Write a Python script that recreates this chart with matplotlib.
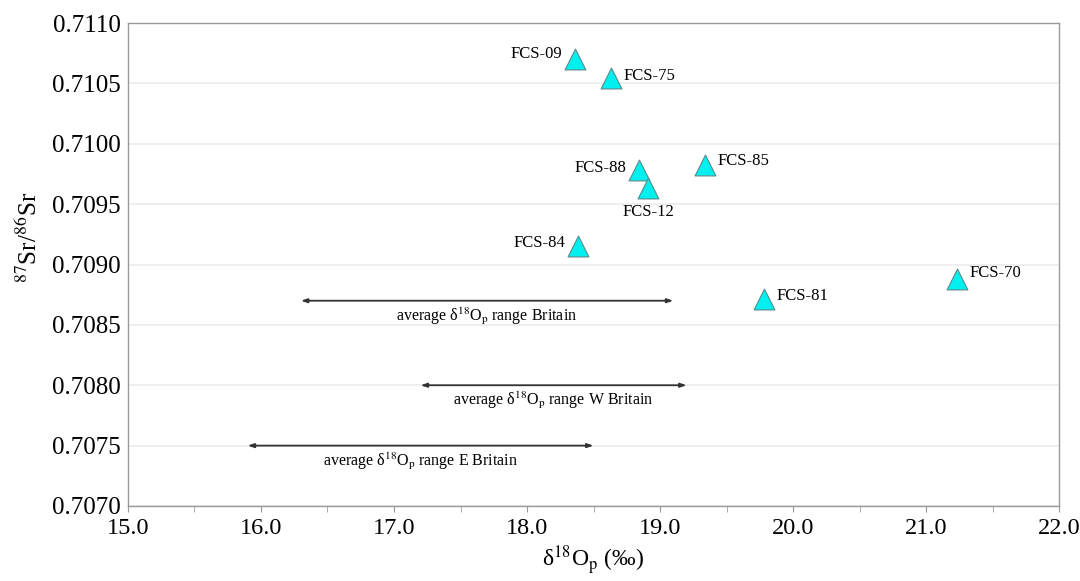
import matplotlib
matplotlib.use("Agg")
import matplotlib.pyplot as plt
from matplotlib.ticker import MultipleLocator, FormatStrFormatter

plt.rcParams["font.family"] = ["Liberation Serif", "DejaVu Serif"]
plt.rcParams["mathtext.fontset"] = "stix"

# ── data ──
samples = ["FCS-09", "FCS-75", "FCS-88", "FCS-12", "FCS-85", "FCS-84", "FCS-81", "FCS-70"]
d18o = [18.36, 18.63, 18.84, 18.91, 19.34, 18.38, 19.78, 21.23]
sr_ratio = [0.71070, 0.710546, 0.709785, 0.709631, 0.709824, 0.709153, 0.708718, 0.708882]

ranges = ["Britain", "W Britain", "E Britain"]
range_lo = [16.3, 17.2, 15.9]
range_hi = [19.1, 19.2, 18.5]
range_y = [0.7087, 0.7080, 0.7075]

# label placement (offset in points, alignment)
label_pos = {
    "FCS-09": (-9, 4, "right", "center"),
    "FCS-75": (9, 1, "left", "center"),
    "FCS-88": (-9, 1, "right", "center"),
    "FCS-12": (0, -11, "center", "top"),
    "FCS-85": (9, 3, "left", "center"),
    "FCS-84": (-9, 2, "right", "center"),
    "FCS-81": (9, 2, "left", "center"),
    "FCS-70": (9, 4, "left", "center"),
}

fig = plt.figure(figsize=(10.8, 5.81), dpi=100, facecolor="white")
ax = fig.add_axes([0.1185, 0.1291, 0.8621, 0.8313])

ax.set_xlim(15, 22)
ax.set_ylim(0.7070, 0.7110)
ax.yaxis.set_major_locator(MultipleLocator(0.0005))
ax.yaxis.set_major_formatter(FormatStrFormatter("%.4f"))
ax.xaxis.set_major_locator(MultipleLocator(1.0))
ax.xaxis.set_minor_locator(MultipleLocator(0.5))
ax.xaxis.set_major_formatter(FormatStrFormatter("%.1f"))

ax.grid(axis="y", color="#ebebeb", linewidth=1.2, zorder=0)
for s in ax.spines.values():
    s.set_color("#9a9a9a")
    s.set_linewidth(1.0)
ax.tick_params(axis="y", length=0, pad=5, labelsize=18)
ax.tick_params(axis="x", which="both", direction="out", length=4, color="#9a9a9a",
               labelsize=17.5, pad=5)

ax.scatter(d18o, sr_ratio, marker="^", s=15 ** 2, color="#00f0f0",
           edgecolor="#5a8a8a", linewidth=0.8, zorder=4)

for name, x, y in zip(samples, d18o, sr_ratio):
    dx, dy, ha, va = label_pos[name]
    ax.annotate(name, (x, y), xytext=(dx, dy), textcoords="offset points",
                ha=ha, va=va, fontsize=12, zorder=5)

for name, lo, hi, y in zip(ranges, range_lo, range_hi, range_y):
    ax.annotate("", xy=(lo, y), xytext=(hi, y),
                arrowprops=dict(arrowstyle="<|-|>,head_length=0.35,head_width=0.12",
                                color="#333333", lw=1.3, shrinkA=0, shrinkB=0),
                zorder=3)
    ax.annotate(f"average δ$^{{18}}$O$_{{\\mathrm{{p}}}}$ range {name}",
                ((lo + hi) / 2, y), xytext=(0, -3.5), textcoords="offset points",
                ha="center", va="top", fontsize=11.5)

ax.set_xlabel("δ$^{18}$O$_{\\mathrm{p}}$ (‰)", fontsize=17, labelpad=3)
ax.set_ylabel("$^{87}$Sr/$^{86}$Sr", fontsize=18)
ax.yaxis.set_label_coords(-0.092, 0.555)

fig.savefig("out.png", dpi=100, facecolor="white")
